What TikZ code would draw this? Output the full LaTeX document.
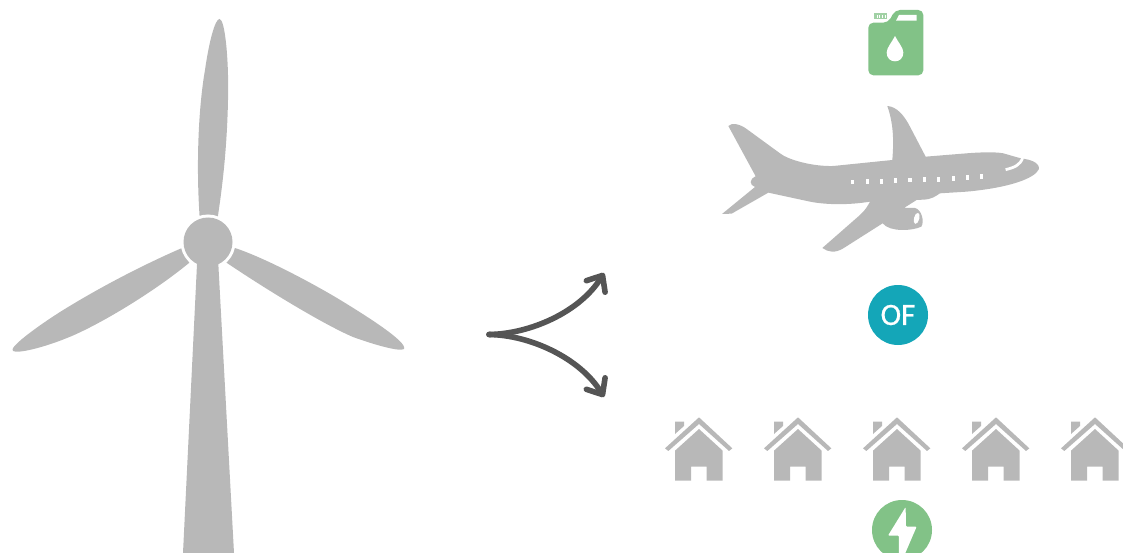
\documentclass[tikz,border=0pt]{standalone}
\usepackage{fontspec}
\setmainfont[FakeBold=0.5]{Carlito}
\usetikzlibrary{arrows.meta}
\definecolor{shapegrey}{HTML}{B8B8B8}
\definecolor{fuelgreen}{HTML}{82C287}
\definecolor{offteal}{HTML}{14A6B8}
\definecolor{arrowgrey}{HTML}{555555}
\tikzset{
  greyshape/.style={fill=shapegrey, draw=none},
  greenshape/.style={fill=fuelgreen, draw=none},
  whiteshape/.style={fill=white, draw=none},
  badge/.style={circle, minimum size=60pt, inner sep=0pt, text=white},
  splitarrow/.style={line width=5.6pt, arrowgrey, line cap=round,
    -{Straight Barb[length=13pt, width=22pt, line cap=round, round]}},
  zoomed/.style={x=0.3333pt, y=-0.3333pt}
}

\begin{document}
\begin{tikzpicture}[x=1pt, y=-1pt]
  \useasboundingbox (0,0) rectangle (1123,553);
  \clip (0,0) rectangle (1123,553);

  \fill[greyshape] (200,222) .. controls (196,170) and (198,110) .. (205,70)
    .. controls (209,42) and (215,19) .. (219.5,19)
    .. controls (225,19) and (229,60) .. (228,100)
    .. controls (227,150) and (222,190) .. (217,222) -- cycle;
  \fill[greyshape] (215,250) -- (235,248) .. controls (265,258) and (310,282) .. (337,298)
    .. controls (365,315) and (408,342) .. (404,349)
    .. controls (400,352) and (375,345) .. (353,337)
    .. controls (325,325) and (270,292) .. (227,263) -- cycle;
  \fill[greyshape] (192,255) -- (182,248) .. controls (145,264) and (100,287) .. (60,312)
    .. controls (35,328) and (8,348) .. (13,351)
    .. controls (18,354) and (45,347) .. (67,338)
    .. controls (95,327) and (150,295) .. (189,263) -- cycle;
  \fill[white] (208,242) circle (27.5);
  \fill[greyshape] (208,242) circle (24.5);
  \fill[greyshape] (197.3,258) -- (218,258) -- (234,553) -- (183,553) -- cycle;

  \coordinate (fork) at (489,334.5);
  \coordinate (planeend) at (604,273);
  \coordinate (homesend) at (604,397);
  \draw[splitarrow] (fork) .. controls (530,334) and (580,312) .. (planeend);
  \draw[splitarrow] (fork) .. controls (530,335) and (580,358) .. (homesend);

  \begin{scope}[shift={(850,0)}, zoomed]
    \fill[greenshape, rounded corners=5pt] (55,226) -- (55,68) -- (115,68) -- (135,30)
      -- (220,30) -- (220,226) -- cycle;
    \fill[whiteshape] (147,45) -- (200,45) -- (200,62) -- (138,62) -- cycle;
    \fill[fuelgreen!75] (72,40) rectangle (110,58);
    \foreach \stripe in {80,88,96,104}
      \fill[whiteshape] (\stripe,44) rectangle +(3,10);
    \fill[whiteshape] (135,108) .. controls (125,128) and (110,143) .. (110,158)
      .. controls (110,175) and (122,184) .. (135,184)
      .. controls (148,184) and (160,175) .. (160,158)
      .. controls (160,143) and (145,128) .. (135,108) -- cycle;
  \end{scope}

  \begin{scope}[shift={(700,90)}, zoomed]
    \fill[greyshape] (85,108) .. controls (95,97) and (120,102) .. (140,117)
      -- (240,190) .. controls (265,210) and (340,230) .. (400,228)
      -- (577,210) .. controls (580,170) and (584,110) .. (562,48)
      .. controls (590,50) and (612,75) .. (630,110)
      -- (677,200) -- (800,190) .. controls (850,186) and (890,186) .. (910,190)
      -- (955,203) -- (975,207) .. controls (1005,212) and (1020,225) .. (1017,237)
      .. controls (1005,265) and (930,293) .. (800,305)
      -- (720,310) .. controls (705,320) and (695,328) .. (670,329)
      -- (650,330) -- (612,354) -- (645,354)
      .. controls (665,358) and (674,395) .. (664,410)
      .. controls (640,422) and (570,428) .. (548,400)
      -- (430,475) .. controls (405,490) and (385,487) .. (367,474)
      -- (480,375) .. controls (495,362) and (505,345) .. (510,335)
      .. controls (450,345) and (380,345) .. (330,335)
      -- (205,308) -- (95,371) -- (66,372) -- (165,291)
      .. controls (148,285) and (147,268) .. (167,259) -- cycle;
    \fill[whiteshape, rotate around={-15:(650,385)}] (650,385) ellipse (8 and 17);
    \foreach \winx/\winy in {458/276,503/275,545/274,587/272,630/270,673/268,716/268,760/265,802/262,845/260}
      \fill[whiteshape] (\winx-5,\winy-7) rectangle +(10,14);
    \draw[white, line width=2.8pt] (917,239) .. controls (945,232) and (960,225) .. (968,204);
  \end{scope}

  \node[badge, fill=offteal, font=\fontsize{31}{31}\selectfont] (offshore) at (898,315) {OF};

  \foreach \homex in {0,99,198,297,396} {
    \begin{scope}[shift={(660+\homex,410)}, zoomed]
      \fill[greyshape] (117,22) -- (217,115) -- (207,123) -- (117,42) -- (25,123) -- (15,115) -- cycle;
      \fill[greyshape] (45,35) -- (72,35) -- (72,48) -- (45,72) -- cycle;
      \fill[greyshape] (117,57) -- (188,122) -- (188,212) -- (140,212) -- (140,170)
        -- (93,170) -- (93,212) -- (45,212) -- (45,122) -- cycle;
    \end{scope}
  }

  \node[badge, fill=fuelgreen] (power) at (902,530) {};
  \begin{scope}[shift={(660,410)}, zoomed]
    \fill[whiteshape, rounded corners=1pt] (737,291) -- (684,377) -- (717,377) -- (717,450)
      -- (727,450) -- (770,350) -- (738,350) -- cycle;
  \end{scope}
\end{tikzpicture}
\end{document}
